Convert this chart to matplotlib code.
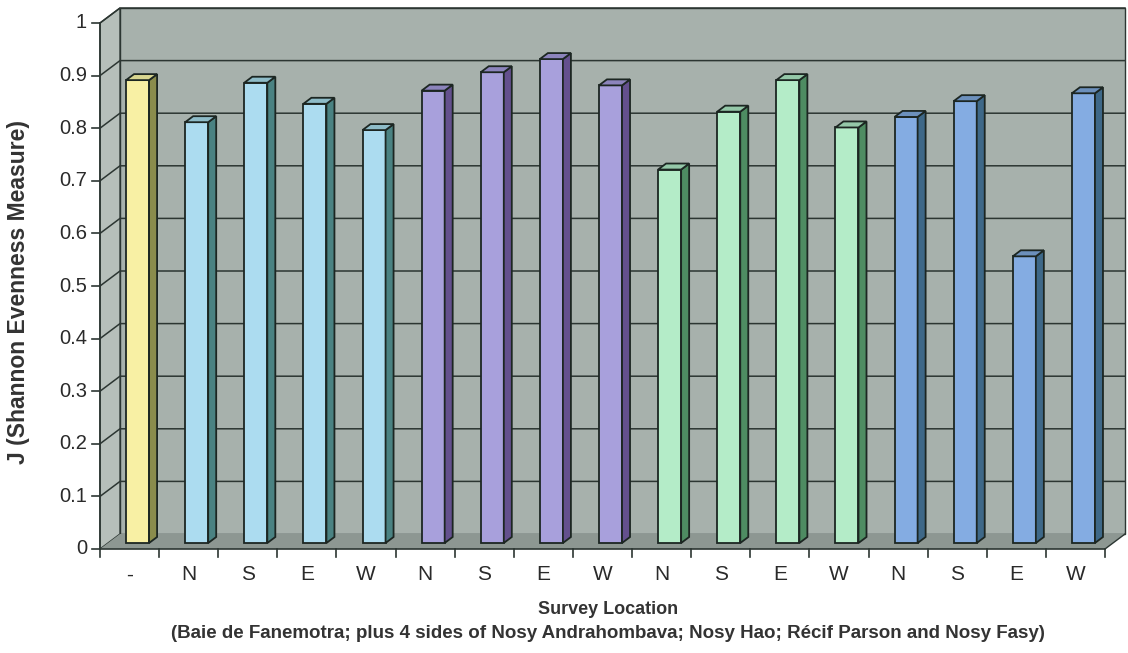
import matplotlib.pyplot as plt
from matplotlib.patches import Polygon
import numpy as np

# survey sites: Baie de Fanemotra, then N/S/E/W of three islands/reef sites
locations = ['-', 'N', 'S', 'E', 'W', 'N', 'S', 'E', 'W',
             'N', 'S', 'E', 'W', 'N', 'S', 'E', 'W']
evenness = [0.88, 0.80, 0.875, 0.835, 0.785,
            0.86, 0.895, 0.92, 0.87,
            0.71, 0.82, 0.88, 0.79,
            0.81, 0.84, 0.545, 0.855]
site_group = [0, 1, 1, 1, 1, 2, 2, 2, 2, 3, 3, 3, 3, 4, 4, 4, 4]

# front / side / top colours for each site group
front_col = ['#f8f0a4', '#acdcf0', '#a8a0dc', '#b4ecc8', '#84ace2']
side_col = ['#8a8c4c', '#4a8282', '#64508e', '#4e8c62', '#3e6888']
top_col = ['#d8d690', '#8ebcc8', '#8c84bc', '#94c8a8', '#6c90bc']

plt.rcParams['font.family'] = ['Liberation Sans', 'DejaVu Sans']

fig = plt.figure(figsize=(11.28, 6.53), dpi=100)
ax = fig.add_axes([100 / 1128, 104 / 653, 1005 / 1128, 526 / 653])
n = len(evenness)
ax.set_xlim(0, n)
ax.set_ylim(0, 1)
ax.axis('off')

# depth of the 3d box in data units
DX, DY = 20 / 1005 * n, 15 / 526
wall = '#a7b1ac'
side_wall = '#b6bfba'
floor = '#8d9792'
line_c = '#2c3632'

# back wall, left wall, floor
ax.add_patch(Polygon([(DX, 1 + DY), (n + DX, 1 + DY), (n + DX, DY), (DX, DY)],
                     closed=True, fc=wall, ec=line_c, lw=1, clip_on=False, zorder=0))
ax.add_patch(Polygon([(0, 0), (DX, DY), (DX, 1 + DY), (0, 1)],
                     closed=True, fc=side_wall, ec=line_c, lw=1, clip_on=False, zorder=0))
ax.add_patch(Polygon([(0, 0), (n, 0), (n + DX, DY), (DX, DY)],
                     closed=True, fc=floor, ec='none', clip_on=False, zorder=1))
ax.plot([n, n + DX], [0, DY], color=line_c, lw=1, clip_on=False, zorder=1)

# gridlines on the walls
yticks = np.round(np.arange(0, 1.01, 0.1), 1)
for v in yticks[1:]:
    ax.plot([0, DX, n + DX], [v, v + DY, v + DY], color=line_c, lw=1.1,
            clip_on=False, zorder=1)

# bars sit part way into the depth of the box
bar_w = 0.39
off = 0.305
f_front, f_back = 0.4, 0.8
sx, sy = (f_back - f_front) * DX, (f_back - f_front) * DY
x0 = np.arange(n) + off + f_front * DX
base = f_front * DY

fronts = [front_col[g] for g in site_group]
ax.bar(x0, evenness, width=bar_w, bottom=base, align='edge', color=fronts,
       edgecolor='#1c2622', linewidth=1.3, zorder=3, clip_on=False)
for xl, v, g in zip(x0, evenness, site_group):
    xr = xl + bar_w
    top = base + v
    ax.add_patch(Polygon([(xr, base), (xr + sx, base + sy), (xr + sx, top + sy), (xr, top)],
                         closed=True, fc=side_col[g], ec='#1c2622', lw=1.3,
                         clip_on=False, zorder=3))
    ax.add_patch(Polygon([(xl, top), (xr, top), (xr + sx, top + sy), (xl + sx, top + sy)],
                         closed=True, fc=top_col[g], ec='#1c2622', lw=1.3,
                         clip_on=False, zorder=3))

# front axes with ticks
ax.plot([0, 0], [0, 1], color=line_c, lw=1.2, clip_on=False, zorder=4)
ax.plot([0, n], [0, 0], color=line_c, lw=1.2, clip_on=False, zorder=4)
tk_x = 8 / 1005 * n
tk_y = 8 / 526
for v in yticks:
    ax.plot([-tk_x, 0], [v, v], color=line_c, lw=1.2, clip_on=False, zorder=4)
    ax.text(-tk_x - 5 / 1005 * n, v, f'{v:g}', ha='right', va='center',
            fontsize=14.5, color='#2a2a2a')
for i in range(n + 1):
    ax.plot([i, i], [0, -tk_y], color=line_c, lw=1.2, clip_on=False, zorder=4)
for i, lab in enumerate(locations):
    ax.text(i + 0.5, -26 / 526, lab, ha='center', va='center', fontsize=15,
            color='#2a2a2a')

fig.text(19 / 1128, 1 - 292 / 653, 'J (Shannon Evenness Measure)', rotation=90,
         ha='center', va='center', fontsize=16.5, fontweight='bold', color='#333333')
fig.text(608 / 1128, 1 - 610 / 653, 'Survey Location', ha='center', va='center',
         fontsize=13, fontweight='bold', color='#333333')
fig.text(608 / 1128, 1 - 633 / 653,
         '(Baie de Fanemotra; plus 4 sides of Nosy Andrahombava; Nosy Hao; '
         'Récif Parson and Nosy Fasy)',
         ha='center', va='center', fontsize=13.5, fontweight='bold', color='#333333')

fig.savefig('out.png', dpi=100, facecolor='white')
